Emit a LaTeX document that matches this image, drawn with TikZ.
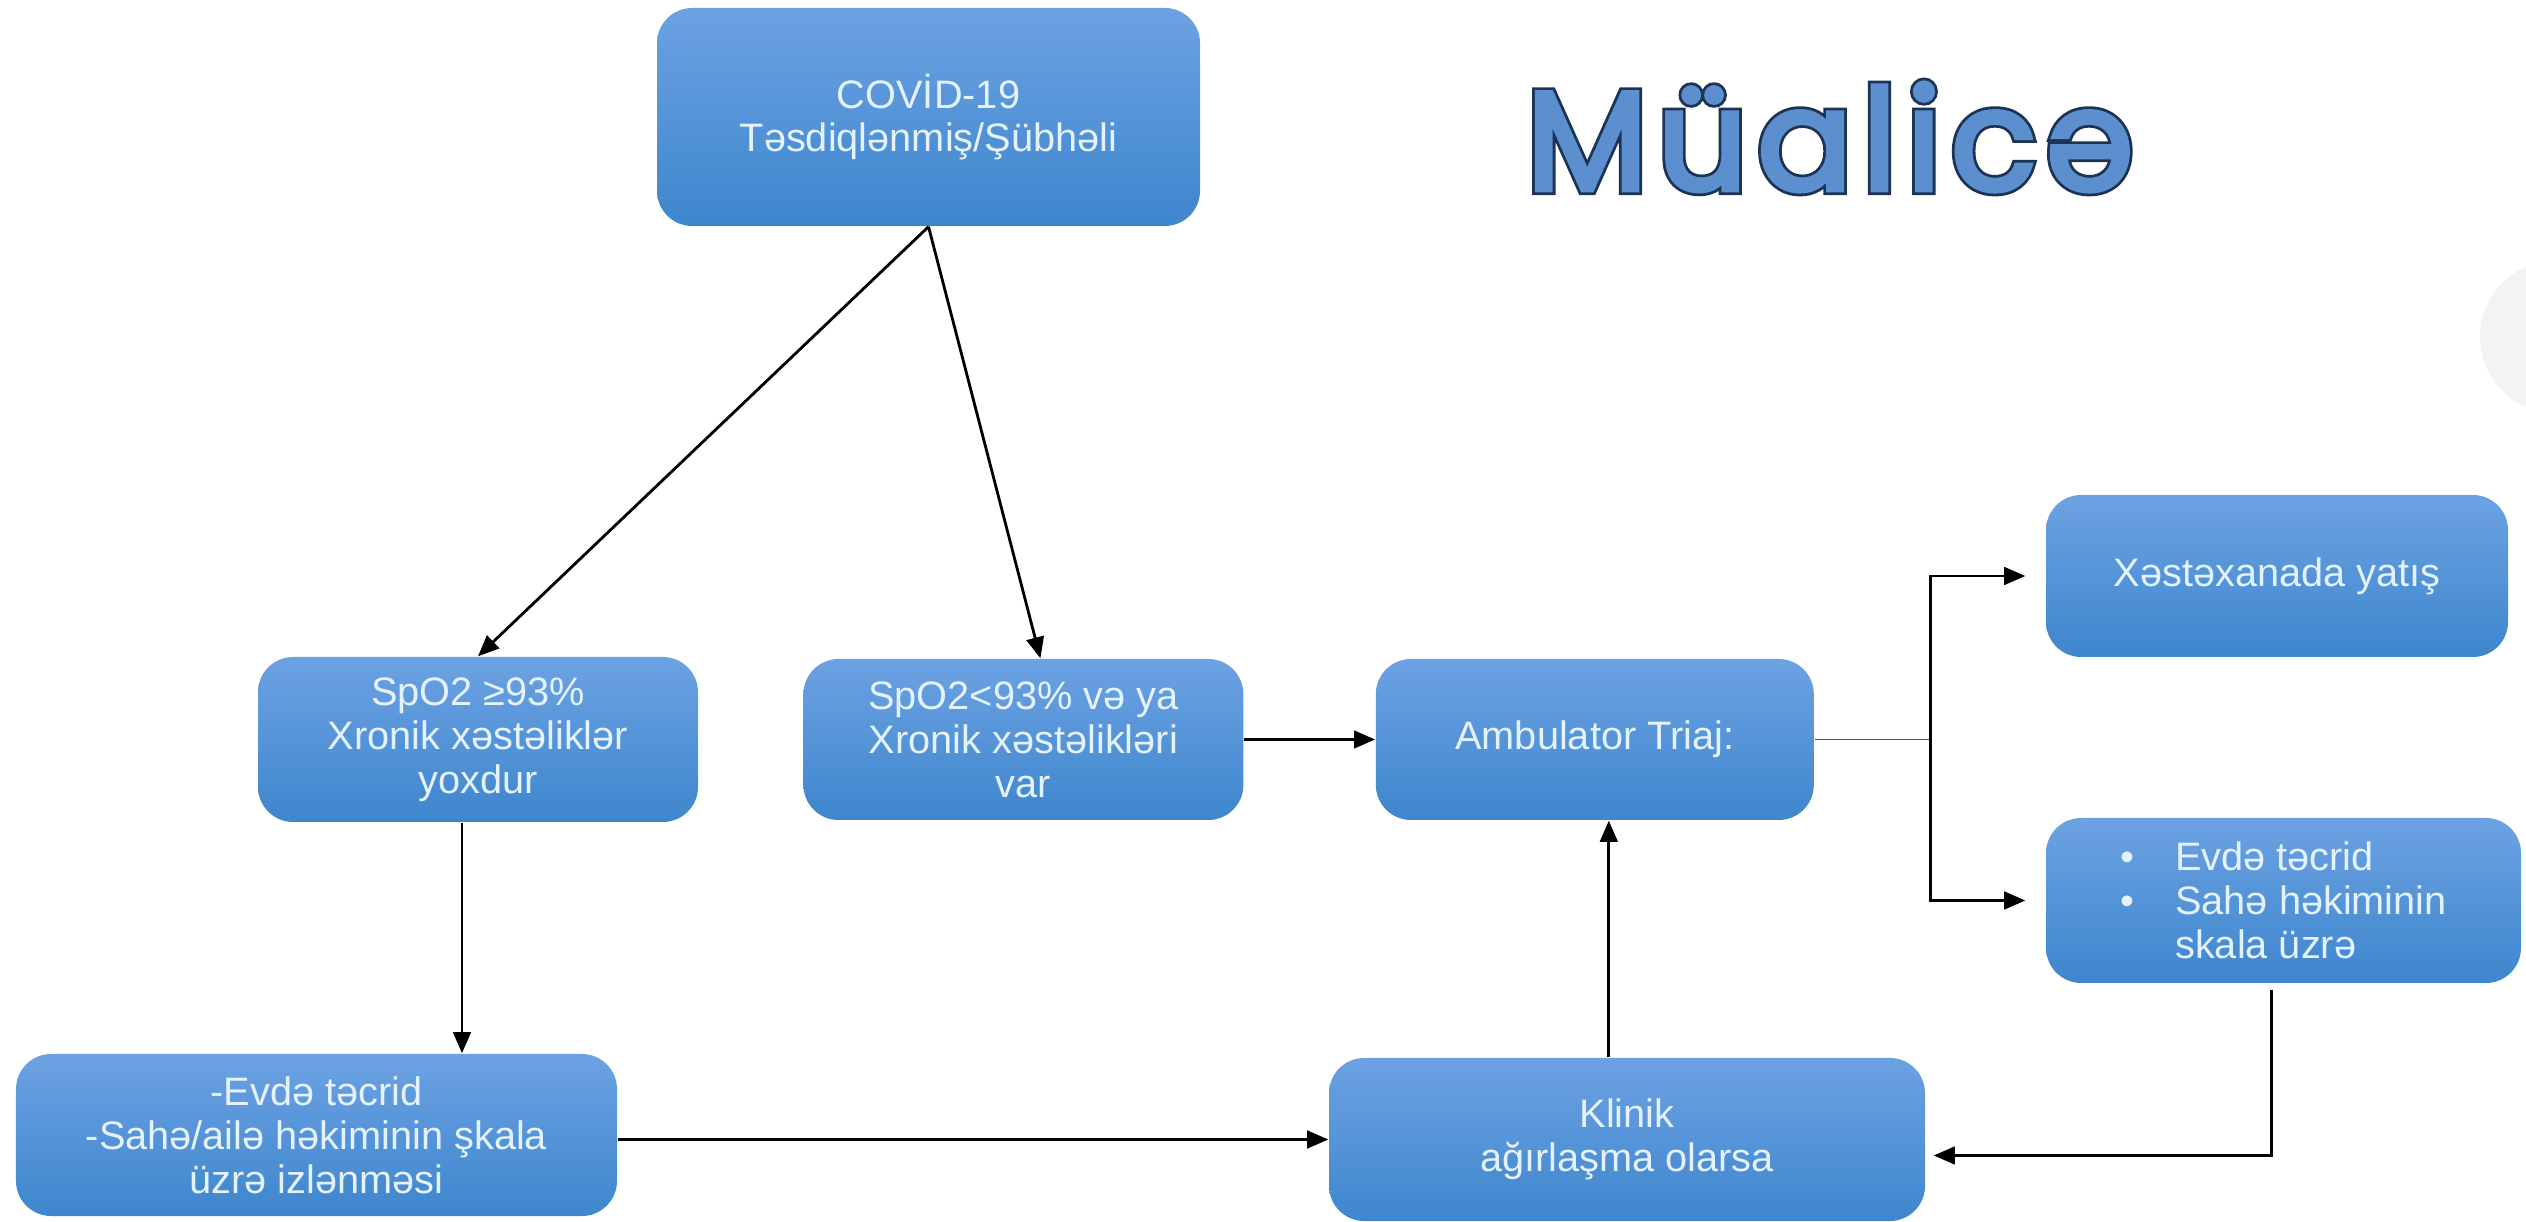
\documentclass[tikz,border=0pt]{standalone}
\usepackage{fontspec}
\setmainfont{Liberation Sans}
\newfontfamily\titlefont[LetterSpace=7]{Poppins}
\usetikzlibrary{arrows.meta, positioning, calc}
\definecolor{boxtop}{RGB}{108,162,226}
\definecolor{boxbot}{RGB}{62,134,206}
\definecolor{boxtext}{RGB}{228,242,255}
\definecolor{titleblue}{RGB}{92,142,206}
\definecolor{titledark}{RGB}{28,50,84}
\definecolor{hintgray}{RGB}{243,243,243}
% fill and stroke the glyphs: #1 line width, #2 stroke colour (rgb), #3 text
\newcommand{\strokedtext}[3]{%
  \special{pdf:literal direct 2 Tr #1 w #2 RG}#3\special{pdf:literal direct 0 Tr}}

\begin{document}
\begin{tikzpicture}[
      box/.style={rounded corners=10pt, top color=boxtop, bottom color=boxbot,
                  align=center, text=boxtext,
                  font=\fontsize{11.3}{12.5}\selectfont, inner sep=2pt},
      arrow/.style={-{Triangle[length=6pt, width=5pt]}, line width=0.8pt, black},
      thinline/.style={line width=0.5pt, gray!70!black},
      titletext/.style={font=\titlefont\fontsize{40}{44}\selectfont}
    ]
    \useasboundingbox (0,0) rectangle (25.26,12.21);
    \begin{scope}
      \clip (0,0) rectangle (25.26,12.21);
      \fill[hintgray] (25.57,8.84) circle (0.77);
    \end{scope}

    % Boxes
    \node[box, minimum width=5.43cm, minimum height=2.18cm] (covid) at (9.285,11.04)
      {COVİD-19\\Təsdiqlənmiş/Şübhəli};
    \node[box, minimum width=4.40cm, minimum height=1.65cm] (spohigh) at (4.78,4.815)
      {SpO2 ≥93\%\\Xronik xəstəliklər\\yoxdur};
    \node[box, minimum width=4.40cm, minimum height=1.61cm, right=1.04cm of spohigh] (spolow)
      {SpO2<93\% və ya\\Xronik xəstəlikləri\\var};
    \node[box, minimum width=4.38cm, minimum height=1.61cm, right=1.31cm of spolow] (triage)
      {Ambulator Triaj:};
    \node[box, minimum width=4.62cm, minimum height=1.62cm] (hospital) at (22.77,6.45)
      {Xəstəxanada yatış};
    \node[box, minimum width=4.75cm, minimum height=1.65cm, align=left] (homecare) at (22.835,3.205)
      {\makebox[0.55cm][l]{\textbullet}Evdə təcrid\\
       \makebox[0.55cm][l]{\textbullet}Sahə həkiminin\\
       \hspace*{0.55cm}skala üzrə};
    \node[box, minimum width=6.01cm, minimum height=1.62cm] (isolate) at (3.165,0.86)
      {-Evdə təcrid\\-Sahə/ailə həkiminin şkala\\üzrə izlənməsi};
    \node[box, minimum width=5.96cm, minimum height=1.63cm] (clinic) at (16.27,0.815)
      {Klinik\\ağırlaşma olarsa};

    % Connectors
    \draw[arrow] (covid.south) -- (spohigh.north);
    \draw[arrow] (covid.south) -- ($(spolow.north)+(0.17,0)$);
    \draw[arrow] ($(spohigh.south)+(-0.16,0)$) -- ($(spohigh.south |- isolate.north)+(-0.16,0)$);
    \draw[arrow] (spolow.east) -- (triage.west);
    \draw[thinline] (triage.east) -- ++(1.16,0) coordinate (split);
    \draw[arrow] (split) |- ([xshift=-0.2cm]hospital.west);
    \draw[arrow] (split) |- ([xshift=-0.2cm]homecare.west);
    \draw[arrow] (isolate.east |- clinic.west) ++(0,0) -- (clinic.west);
    \draw[arrow] (clinic.north -| triage.south) ++(0.14,0) -- ($(triage.south)+(0.14,0)$);
    \draw[arrow] ($(homecare.south)+(-0.12,-0.06)$) |- ([xshift=0.08cm, yshift=-0.16cm]clinic.east);

    % Title: dark rim under a lighter blue face
    \node[titletext, text=titledark] (titlerim) at (18.3,10.84)
      {\strokedtext{3.0}{0.11 0.2 0.33}{Müalicə}};
    \node[titletext, text=titleblue] (title) at (titlerim)
      {\strokedtext{1.4}{0.36 0.56 0.81}{Müalicə}};
\end{tikzpicture}
\end{document}
